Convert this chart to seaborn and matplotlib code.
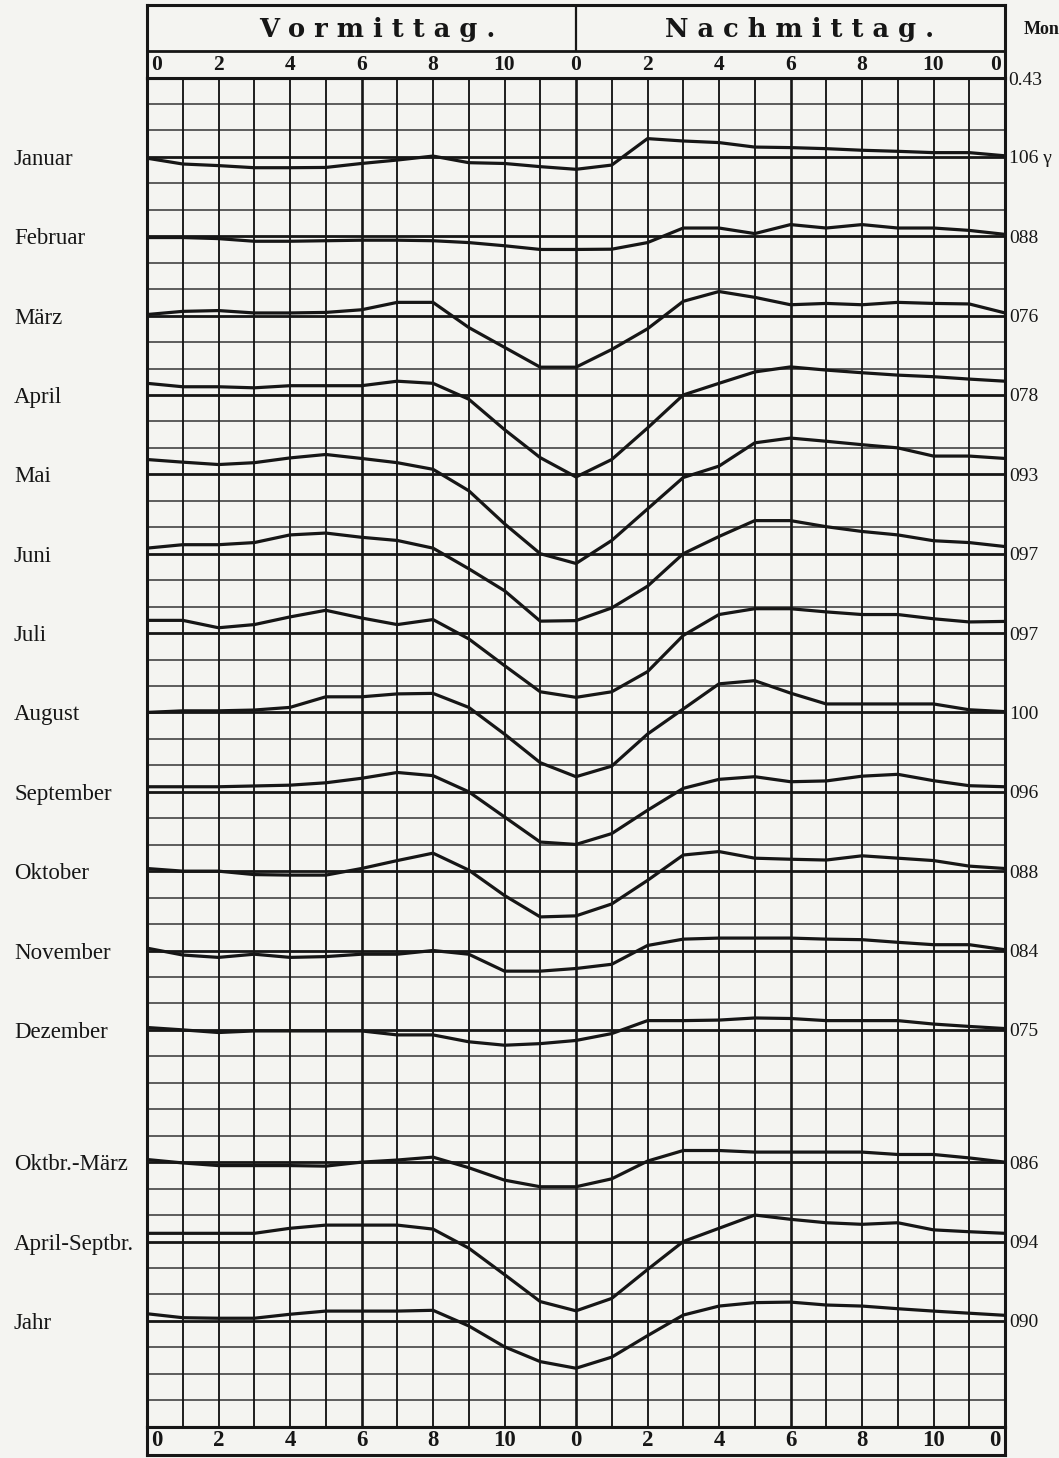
import numpy as np
import pandas as pd
import matplotlib
matplotlib.use("Agg")
import matplotlib.pyplot as plt
import matplotlib.transforms as mtrans
import seaborn as sns

# ---------------- data ----------------
hours = list(range(25))
hour_tick_values = [0, 2, 4, 6, 8, 10, 12, 14, 16, 18, 20, 22, 24]
hour_tick_labels = ["0", "2", "4", "6", "8", "10", "0", "2", "4", "6", "8", "10", "0"]
half_titles = ["V o r m i t t a g .", "N a c h m i t t a g ."]

series_names = ["Januar", "Februar", "März", "April", "Mai", "Juni", "Juli",
                "August", "September", "Oktober", "November", "Dezember",
                "Oktbr.-März", "April-Septbr.", "Jahr"]
monthly_means = ["106 γ", "088", "076", "078", "093", "097", "097", "100",
                 "096", "088", "084", "075", "086", "094", "090"]
top_mean_label = "0.43"

# deviations from the monthly mean, in grid divisions (positive = up), hours 0..24
januar = [-0.05, -0.27, -0.33, -0.41, -0.41, -0.40, -0.25, -0.12, 0.03, -0.22, -0.25, -0.37, -0.47,
          -0.31, 0.69, 0.60, 0.54, 0.37, 0.35, 0.31, 0.25, 0.21, 0.16, 0.16, 0.04]
februar = [-0.05, -0.05, -0.09, -0.19, -0.19, -0.17, -0.15, -0.15, -0.17, -0.24, -0.36, -0.50, -0.50,
           -0.49, -0.24, 0.31, 0.31, 0.10, 0.44, 0.31, 0.44, 0.31, 0.31, 0.22, 0.07]
maerz = [0.04, 0.16, 0.19, 0.10, 0.10, 0.12, 0.22, 0.50, 0.50, -0.45, -1.20, -1.95, -1.95,
         -1.28, -0.50, 0.54, 0.91, 0.69, 0.41, 0.46, 0.41, 0.50, 0.46, 0.44, 0.10]
april = [0.44, 0.31, 0.31, 0.27, 0.35, 0.35, 0.35, 0.52, 0.44, -0.16, -1.31, -2.37, -3.10,
         -2.44, -1.25, 0.00, 0.44, 0.87, 1.06, 0.94, 0.84, 0.75, 0.69, 0.60, 0.52]
mai = [0.56, 0.46, 0.37, 0.44, 0.62, 0.75, 0.60, 0.44, 0.19, -0.62, -1.87, -3.00, -3.37,
       -2.50, -1.31, -0.12, 0.31, 1.19, 1.37, 1.25, 1.12, 1.00, 0.69, 0.69, 0.60]
juni = [0.21, 0.34, 0.34, 0.42, 0.71, 0.78, 0.62, 0.50, 0.21, -0.57, -1.40, -2.55, -2.53,
        -2.05, -1.23, 0.00, 0.65, 1.25, 1.25, 1.02, 0.84, 0.71, 0.49, 0.42, 0.27]
juli = [0.48, 0.48, 0.20, 0.32, 0.61, 0.86, 0.57, 0.32, 0.51, -0.22, -1.23, -2.22, -2.43,
        -2.22, -1.46, -0.09, 0.70, 0.92, 0.92, 0.80, 0.70, 0.70, 0.54, 0.42, 0.44]
august = [0.00, 0.06, 0.06, 0.09, 0.19, 0.59, 0.59, 0.70, 0.72, 0.19, -0.82, -1.90, -2.43,
          -2.03, -0.82, 0.13, 1.08, 1.20, 0.73, 0.32, 0.32, 0.32, 0.32, 0.10, 0.03]
september = [0.19, 0.19, 0.19, 0.22, 0.25, 0.34, 0.51, 0.73, 0.61, 0.00, -0.95, -1.90, -1.99,
             -1.58, -0.70, 0.13, 0.47, 0.57, 0.38, 0.41, 0.59, 0.66, 0.42, 0.23, 0.19]
oktober = [0.10, 0.00, 0.00, -0.13, -0.15, -0.15, 0.10, 0.40, 0.68, 0.04, -0.92, -1.73, -1.69,
           -1.24, -0.35, 0.61, 0.74, 0.49, 0.45, 0.42, 0.58, 0.49, 0.40, 0.19, 0.10]
november = [0.09, -0.17, -0.26, -0.14, -0.26, -0.23, -0.14, -0.14, 0.00, -0.14, -0.78, -0.78, -0.68,
            -0.52, 0.19, 0.43, 0.47, 0.47, 0.47, 0.43, 0.41, 0.31, 0.22, 0.22, 0.03]
dezember = [0.09, 0.00, -0.10, -0.04, -0.04, -0.04, -0.04, -0.19, -0.19, -0.45, -0.58, -0.52, -0.40,
            -0.14, 0.35, 0.35, 0.37, 0.45, 0.43, 0.35, 0.35, 0.35, 0.22, 0.13, 0.05]
okt_maerz = [0.10, -0.03, -0.13, -0.13, -0.13, -0.15, 0.00, 0.08, 0.19, -0.21, -0.68, -0.93, -0.93,
             -0.63, 0.04, 0.44, 0.44, 0.38, 0.38, 0.38, 0.38, 0.29, 0.29, 0.16, 0.00]
apr_sept = [0.31, 0.31, 0.31, 0.31, 0.50, 0.62, 0.62, 0.62, 0.47, -0.25, -1.25, -2.27, -2.62,
            -2.15, -1.06, 0.00, 0.50, 1.00, 0.84, 0.71, 0.65, 0.71, 0.44, 0.37, 0.31]
jahr = [0.27, 0.12, 0.10, 0.10, 0.25, 0.37, 0.37, 0.37, 0.40, -0.19, -0.98, -1.54, -1.79,
        -1.37, -0.56, 0.22, 0.56, 0.69, 0.71, 0.60, 0.56, 0.46, 0.37, 0.29, 0.21]

all_series = [januar, februar, maerz, april, mai, juni, juli, august, september,
              oktober, november, dezember, okt_maerz, apr_sept, jahr]

# ---------------- layout ----------------
W, H = 1059, 1458
paper = "#f4f4f1"
ink = "#161616"

sns.set_style("white")
plt.rcParams["font.family"] = ["Liberation Serif", "DejaVu Serif"]

fig = plt.figure(figsize=(W / 100, H / 100), dpi=100, facecolor=paper)


def px_axes(x0, y0, x1, y1):
    return fig.add_axes([x0 / W, 1 - y1 / H, (x1 - x0) / W, (y1 - y0) / H])


n_rows = 51
base_rows = [3 * (i + 1) for i in range(12)] + [41 + 3 * j for j in range(3)]

ax = px_axes(147, 77.5, 1005, 1426.7)
ax.set_facecolor(paper)
ax.set_xlim(0, 24)
ax.set_ylim(n_rows, 0)
ax.set_xticks([])
ax.set_yticks([])

for k in range(n_rows + 1):
    if k in base_rows:
        ax.axhline(k, color=ink, lw=2.0, zorder=2)
    else:
        ax.axhline(k, color="#4a4a4a", lw=1.25, zorder=1)
for h in hours:
    ax.axvline(h, color=ink, lw=1.9 if h % 6 == 0 else 1.35, zorder=1)

frames = []
for name, base, vals in zip(series_names, base_rows, all_series):
    frames.append(pd.DataFrame({"Stunde": hours,
                                "Zeile": base - np.array(vals),
                                "Reihe": name}))
df = pd.concat(frames, ignore_index=True)
sns.lineplot(data=df, x="Stunde", y="Zeile", units="Reihe", estimator=None,
             color=ink, lw=2.3, sort=False, ax=ax, legend=False, zorder=3)
ax.set_xlabel("")
ax.set_ylabel("")
for sp in ax.spines.values():
    sp.set_color(ink)
    sp.set_linewidth(2.2)

# row labels
tr_left = mtrans.blended_transform_factory(fig.transFigure, ax.transData)
for name, base, mean in zip(series_names, base_rows, monthly_means):
    ax.text(14 / W, base, name, transform=tr_left, ha="left", va="center_baseline",
            fontsize=16.5, color=ink)
    ax.text(1009 / W, base, mean, transform=tr_left, ha="left", va="center_baseline",
            fontsize=14, color=ink)
ax.text(1008 / W, 0.05, top_mean_label, transform=tr_left, ha="left",
        va="center_baseline", fontsize=14, color=ink)

# header
hx = px_axes(147, 5, 1005, 77.5)
hx.set_facecolor(paper)
hx.set_xlim(0, 24)
hx.set_ylim(77.5, 5)
hx.set_xticks([])
hx.set_yticks([])
for sp in hx.spines.values():
    sp.set_color(ink)
    sp.set_linewidth(2.2)
hx.axhline(51, color=ink, lw=2.0)
hx.plot([12, 12], [5, 51], color=ink, lw=1.6)
hx.text(6.45, 30, half_titles[0], ha="center", va="center", fontsize=18.5,
        fontweight="bold", family="DejaVu Serif", color=ink)
hx.text(18.25, 30, half_titles[1], ha="center", va="center", fontsize=18.5,
        fontweight="bold", family="DejaVu Serif", color=ink)

fx = px_axes(147, 1426.7, 1005, 1455)
fx.set_facecolor(paper)
fx.set_xlim(0, 24)
fx.set_ylim(1455, 1426.7)
fx.set_xticks([])
fx.set_yticks([])
for sp in fx.spines.values():
    sp.set_color(ink)
    sp.set_linewidth(2.2)

for axis, yy, fs in ((hx, 64.5, 15.5), (fx, 1441, 16.5)):
    for v, lab in zip(hour_tick_values, hour_tick_labels):
        if v == 0:
            x, ha = 0.12, "left"
        elif v == 24:
            x, ha = 23.88, "right"
        else:
            x, ha = v, "center"
        axis.text(x, yy, lab, ha=ha, va="center", fontsize=fs, fontweight="bold",
                  color=ink)

fig.text(1024 / W, 1 - 30 / H, "Mon", ha="left", va="center", fontsize=13,
         fontweight="bold", color=ink)

fig.savefig("out.png", dpi=100, facecolor=paper)
